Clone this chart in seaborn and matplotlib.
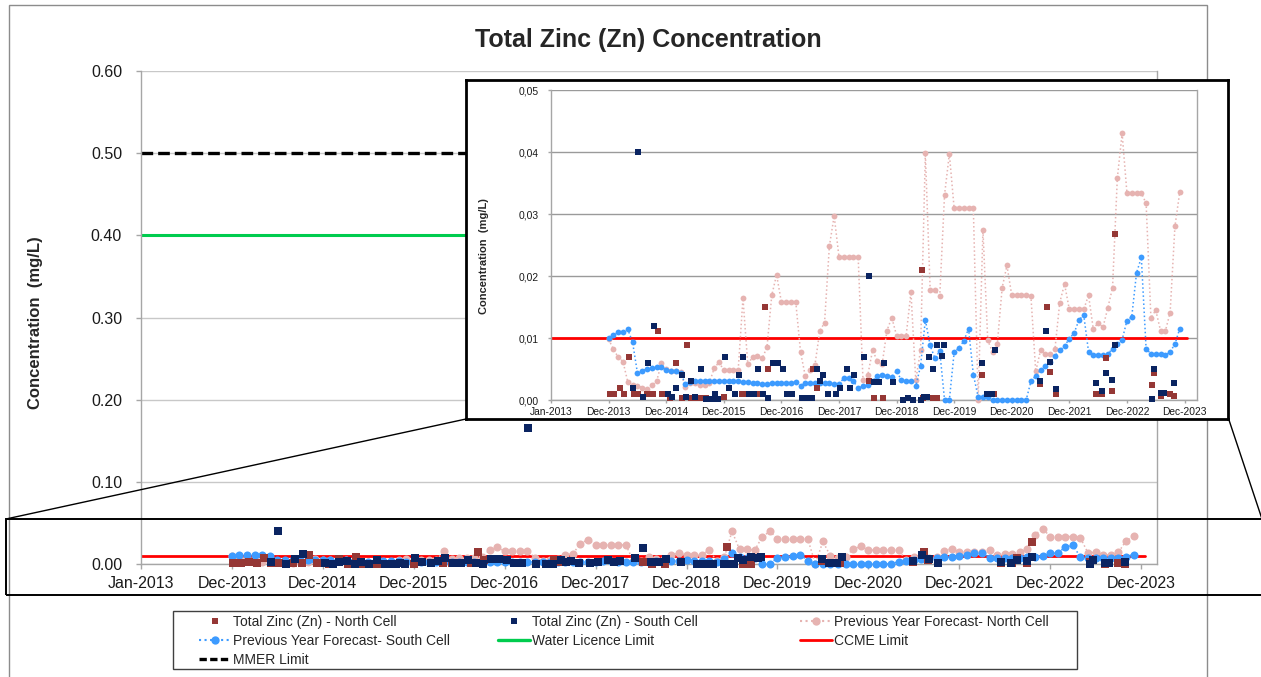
import matplotlib
matplotlib.use("Agg")
import matplotlib.pyplot as plt
from matplotlib.lines import Line2D
from matplotlib.patches import Rectangle
import seaborn as sns

# ---------------------------------------------------------------- data
x_tick_labels = ["Jan-2013", "Dec-2013", "Dec-2014", "Dec-2015", "Dec-2016",
                 "Dec-2017", "Dec-2018", "Dec-2019", "Dec-2020", "Dec-2021",
                 "Dec-2022", "Dec-2023"]
main_y_ticks = [0.0, 0.1, 0.2, 0.3, 0.4, 0.5, 0.6]
main_y_labels = ["0.00", "0.10", "0.20", "0.30", "0.40", "0.50", "0.60"]
inset_y_ticks = [0.0, 0.01, 0.02, 0.03, 0.04, 0.05]
inset_y_labels = ["0,00", "0,01", "0,02", "0,03", "0,04", "0,05"]

# monthly forecasts, first value = Dec-2013
forecast_north = [
    0.0098, 0.0082, 0.0069, 0.0062, 0.0029, 0.0025, 0.0023, 0.0020, 0.0017, 0.0024,
    0.0030, 0.0059, 0.0050, 0.0047, 0.0046, 0.0045, 0.0021, 0.0027, 0.0027, 0.0025,
    0.0025, 0.0028, 0.0051, 0.0061, 0.0048, 0.0048, 0.0048, 0.0048, 0.0164, 0.0058,
    0.0069, 0.0071, 0.0067, 0.0085, 0.0169, 0.0202, 0.0158, 0.0158, 0.0158, 0.0158,
    0.0077, 0.0038, 0.0048, 0.0057, 0.0111, 0.0125, 0.0248, 0.0297, 0.0231, 0.0231,
    0.0231, 0.0231, 0.0231, 0.0033, 0.0040, 0.0080, 0.0063, 0.0058, 0.0112, 0.0133,
    0.0104, 0.0104, 0.0104, 0.0174, 0.0032, 0.0080, 0.0398, 0.0178, 0.0177, 0.0168,
    0.0331, 0.0397, 0.0309, 0.0309, 0.0309, 0.0309, 0.0309, 0.0000, 0.0274, 0.0096,
    0.0078, 0.0091, 0.0181, 0.0217, 0.0169, 0.0169, 0.0169, 0.0169, 0.0167, 0.0046,
    0.0080, 0.0074, 0.0074, 0.0082, 0.0157, 0.0187, 0.0146, 0.0146, 0.0146, 0.0146,
    0.0169, 0.0114, 0.0125, 0.0117, 0.0148, 0.0181, 0.0358, 0.0430, 0.0334, 0.0334,
    0.0334, 0.0334, 0.0317, 0.0132, 0.0145, 0.0112, 0.0111, 0.0141, 0.0280, 0.0335,
]
forecast_south = [
    0.0100, 0.0105, 0.0109, 0.0110, 0.0114, 0.0093, 0.0044, 0.0047, 0.0050, 0.0052,
    0.0054, 0.0053, 0.0049, 0.0046, 0.0046, 0.0043, 0.0026, 0.0029, 0.0030, 0.0031,
    0.0031, 0.0031, 0.0031, 0.0030, 0.0030, 0.0030, 0.0030, 0.0030, 0.0029, 0.0029,
    0.0028, 0.0027, 0.0026, 0.0026, 0.0027, 0.0028, 0.0028, 0.0028, 0.0028, 0.0029,
    0.0023, 0.0027, 0.0028, 0.0027, 0.0027, 0.0028, 0.0027, 0.0026, 0.0026, 0.0035,
    0.0035, 0.0030, 0.0020, 0.0022, 0.0024, 0.0030, 0.0038, 0.0040, 0.0039, 0.0037,
    0.0047, 0.0032, 0.0031, 0.0031, 0.0022, 0.0055, 0.0129, 0.0088, 0.0067, 0.0079,
    0.0000, 0.0000, 0.0077, 0.0084, 0.0095, 0.0115, 0.0041, 0.0005, 0.0005, 0.0005,
    0.0000, 0.0000, 0.0000, 0.0000, 0.0000, 0.0000, 0.0000, 0.0000, 0.0030, 0.0039,
    0.0048, 0.0055, 0.0062, 0.0071, 0.0080, 0.0087, 0.0099, 0.0108, 0.0129, 0.0137,
    0.0078, 0.0073, 0.0073, 0.0072, 0.0075, 0.0082, 0.0090, 0.0097, 0.0128, 0.0134,
    0.0205, 0.0230, 0.0082, 0.0075, 0.0075, 0.0074, 0.0072, 0.0078, 0.0090, 0.0115,
]

# sampling dates as months after Dec-2013
north_months = [0.2, 1.2, 2.3, 3.3, 4.2, 5.2, 6.2, 8.0, 9.2, 10.2, 11.2, 12.8,
                14.1, 15.3, 16.4, 17.2, 18.2, 19.2, 20.3, 24.0, 27.8, 29.1, 30.1,
                31.5, 32.5, 33.3, 42.5, 43.5, 45.8, 47.3, 54.3, 55.4, 57.2, 65.3,
                65.6, 67.5, 68.5, 77.9, 80.3, 89.9, 91.4, 91.9, 93.2, 101.5, 102.9,
                103.6, 104.9, 105.6, 113.2, 113.6, 115.2, 116.9, 117.9]
north_zn = [0.0010, 0.0010, 0.0019, 0.0010, 0.0070, 0.0010, 0.0010, 0.0010,
            0.0010, 0.0111, 0.0010, 0.0003, 0.0060, 0.0003, 0.0089, 0.0003,
            0.0003, 0.0003, 0.0003, 0.0005, 0.0010, 0.0010, 0.0010, 0.0010,
            0.0150, 0.0050, 0.0050, 0.0020, 0.0010, 0.0010, 0.0030, 0.0004,
            0.0004, 0.0210, 0.0004, 0.0004, 0.0004, 0.0040, 0.0010, 0.0026,
            0.0150, 0.0045, 0.0010, 0.0010, 0.0010, 0.0067, 0.0015, 0.0268,
            0.0024, 0.0044, 0.0006, 0.0010, 0.0006]

south_months = [5.1, 6.1, 7.2, 8.3, 9.4, 12.3, 13.3, 14.1, 15.2, 16.2, 17.1, 18.1,
                19.2, 20.2, 21.0, 21.6, 22.2, 22.8, 24.2, 25.1, 26.3, 27.2, 28.1,
                29.2, 30.2, 31.2, 32.2, 33.2, 34.2, 35.2, 36.3, 37.2, 38.3, 39.1,
                40.2, 41.4, 42.4, 43.4, 44.1, 44.7, 45.8, 47.3, 48.3, 49.7, 50.4,
                51.2, 53.2, 54.3, 55.3, 56.4, 57.3, 59.3, 61.4, 62.4, 63.5, 65.0,
                65.7, 66.3, 66.8, 67.5, 68.5, 69.4, 69.8, 77.9, 78.8, 79.8, 80.5,
                89.9, 91.1, 92.0, 93.2, 101.5, 102.8, 103.6, 104.9, 105.6, 113.2,
                113.6, 115.2, 115.8, 117.9]
south_zn = [0.0019, 0.0400, 0.0005, 0.0060, 0.0120, 0.0010, 0.0005, 0.0019,
            0.0040, 0.0005, 0.0030, 0.0005, 0.0050, 0.0002, 0.0002, 0.0002,
            0.0010, 0.0002, 0.0070, 0.0019, 0.0010, 0.0040, 0.0070, 0.0010,
            0.0010, 0.0050, 0.0010, 0.0004, 0.0060, 0.0060, 0.0050, 0.0010,
            0.0010, 0.1650, 0.0004, 0.0004, 0.0004, 0.0050, 0.0030, 0.0040,
            0.0010, 0.0010, 0.0019, 0.0050, 0.0019, 0.0040, 0.0070, 0.0200,
            0.0029, 0.0029, 0.0059, 0.0029, 0.0000, 0.0004, 0.0000, 0.0000,
            0.0005, 0.0005, 0.0070, 0.0050, 0.0089, 0.0071, 0.0089, 0.0060,
            0.0010, 0.0010, 0.0080, 0.0031, 0.0111, 0.0062, 0.0017, 0.0027,
            0.0015, 0.0044, 0.0033, 0.0088, 0.0001, 0.0050, 0.0012, 0.0012,
            0.0028]

mmer_limit = 0.50
water_licence_limit = 0.40
ccme_limit = 0.01
limit_months = [-12, 120.5]   # guideline lines run across the whole record

# ------------------------------------------------------------- styling
NORTH_SQ = "#953735"
SOUTH_SQ = "#0a2461"
NORTH_FC = "#e6b3b1"
SOUTH_FC = "#3d9bff"
GREEN = "#00cc4e"
RED = "#ff0000"
AXIS_GREY = "#a6a6a6"

W, H, DPI = 1261, 677, 100
AXIS_START = 12   # axis position of Dec-2013 (one slot per month)


def fx(px):
    return px / W


def fy(py):
    return 1 - py / H


def pos(months):
    return [AXIS_START + m for m in months]


tick_pos = [12 * i for i in range(len(x_tick_labels))]
fc_pos = pos(range(len(forecast_north)))

sns.set_theme(style="white")
plt.rcParams["font.family"] = ["Liberation Sans", "DejaVu Sans"]

fig = plt.figure(figsize=(W / DPI, H / DPI), dpi=DPI)
fig.patch.set_facecolor("white")


def draw_series(ax, ymax, sq_size, dot_size, fc_lw):
    keep_n = [i for i, v in enumerate(north_zn) if v <= ymax]
    keep_s = [i for i, v in enumerate(south_zn) if v <= ymax]
    lx = pos(limit_months)
    for val, col, lw, ls in [(mmer_limit, "black", 2.4, (0, (3.5, 1.5))),
                             (water_licence_limit, GREEN, 2.2, "-"),
                             (ccme_limit, RED, 2.0, "-")]:
        if val <= ymax:
            sns.lineplot(x=lx, y=[val, val], ax=ax, color=col, linewidth=lw,
                         linestyle=ls, errorbar=None, zorder=2)
    sns.lineplot(x=fc_pos, y=forecast_north, ax=ax, color=NORTH_FC,
                 linewidth=fc_lw, linestyle=":", marker="o", markersize=dot_size,
                 markeredgewidth=0, errorbar=None, zorder=3, clip_on=False)
    sns.lineplot(x=fc_pos, y=forecast_south, ax=ax, color=SOUTH_FC,
                 linewidth=fc_lw, linestyle=":", marker="o", markersize=dot_size,
                 markeredgewidth=0, errorbar=None, zorder=3, clip_on=False)
    sns.scatterplot(x=[pos(north_months)[i] for i in keep_n],
                    y=[north_zn[i] for i in keep_n], ax=ax, marker="s",
                    s=sq_size, color=NORTH_SQ, linewidth=0, zorder=4,
                    clip_on=False, legend=False)
    sns.scatterplot(x=[pos(south_months)[i] for i in keep_s],
                    y=[south_zn[i] for i in keep_s], ax=ax, marker="s",
                    s=sq_size, color=SOUTH_SQ, linewidth=0, zorder=4,
                    clip_on=False, legend=False)


def style_axes(ax, xmax, yticks, ylabels, labelsize, ticklen, xpad, ypad, grid_col):
    ax.set_xlim(0, xmax)
    ax.set_ylim(yticks[0], yticks[-1])
    ax.set_xticks(tick_pos)
    ax.set_xticklabels(x_tick_labels)
    ax.set_yticks(yticks)
    ax.set_yticklabels(ylabels)
    ax.set_xlabel("")
    ax.set_ylabel("")
    ax.yaxis.grid(True, color=grid_col, linewidth=1)
    ax.xaxis.grid(False)
    ax.set_axisbelow(True)
    for side in ["left", "bottom", "right"]:
        ax.spines[side].set_visible(True)
        ax.spines[side].set_color(AXIS_GREY)
        ax.spines[side].set_linewidth(1)
    ax.spines["top"].set_visible(False)
    ax.tick_params(axis="both", direction="out", length=ticklen, width=1,
                   color=AXIS_GREY, labelsize=labelsize, labelcolor="#1a1a1a")
    ax.tick_params(axis="x", pad=xpad, bottom=True)
    ax.tick_params(axis="y", pad=ypad, left=True)


# outer chart border
fig.add_artist(Rectangle((fx(9), fy(720)), fx(1207 - 9), fy(5) - fy(720),
                         transform=fig.transFigure, fill=False,
                         edgecolor="#8c8c8c", linewidth=1, zorder=0))

# ------------------------------------------------------------ main chart
ax = fig.add_axes([fx(141), fy(564), fx(1157) - fx(141), fy(71) - fy(564)])
ax.set_facecolor("white")
draw_series(ax, 1.0, sq_size=34, dot_size=5.8, fc_lw=1.1)
style_axes(ax, 134.1, main_y_ticks, main_y_labels, 11.5, 3.6, 5, 10, "#c8c8c8")

fig.text(fx(648), fy(40), "Total Zinc (Zn) Concentration", ha="center",
         va="center", fontsize=18, fontweight="bold")
fig.text(fx(36), fy(323), "Concentration  (mg/L)", ha="center", va="center",
         rotation=90, fontsize=12, fontweight="bold")

# ------------------------------------------------------ magnified inset
frame = fig.add_axes([fx(466), fy(419), fx(1228) - fx(466), fy(80) - fy(419)],
                     zorder=5)
frame.set_facecolor("white")
frame.set_xticks([])
frame.set_yticks([])
for sp in frame.spines.values():
    sp.set_visible(True)
    sp.set_color("black")
    sp.set_linewidth(2)

axi = fig.add_axes([fx(551), fy(400), fx(1197) - fx(551), fy(90) - fy(400)],
                   zorder=6)
axi.set_facecolor("white")
draw_series(axi, inset_y_ticks[-1], sq_size=17, dot_size=4.2, fc_lw=1.1)
style_axes(axi, 134.6, inset_y_ticks, inset_y_labels, 7.4, 2.2, 3, 6.5, "#9a9a9a")
fig.text(fx(484), fy(256), "Concentration  (mg/L)", ha="center", va="center",
         rotation=90, fontsize=8, fontweight="bold", zorder=7)

# zoom-region outline and connectors
fig.add_artist(Rectangle((fx(6), fy(595)), fx(1280 - 6), fy(519) - fy(595),
                         transform=fig.transFigure, fill=False,
                         edgecolor="black", linewidth=1.4, zorder=8))
fig.add_artist(Line2D([fx(6), fx(466)], [fy(519), fy(419)],
                      transform=fig.transFigure, color="black", linewidth=1,
                      zorder=8))
fig.add_artist(Line2D([fx(1229), fx(1262)], [fy(420), fy(519)],
                      transform=fig.transFigure, color="black", linewidth=1,
                      zorder=8))

# ---------------------------------------------------------------- legend
fig.add_artist(Rectangle((fx(173), fy(669)), fx(1077 - 173), fy(611) - fy(669),
                         transform=fig.transFigure, facecolor="white",
                         edgecolor="#404040", linewidth=1, zorder=8))

h_north = Line2D([], [], linestyle="none", marker="s", markersize=4.6,
                 color=NORTH_SQ, markeredgewidth=0)
h_south = Line2D([], [], linestyle="none", marker="s", markersize=4.6,
                 color=SOUTH_SQ, markeredgewidth=0)
h_fn = Line2D([], [], linestyle=":", linewidth=1.5, color=NORTH_FC, marker="o",
              markersize=6, markeredgewidth=0)
h_fs = Line2D([], [], linestyle=":", linewidth=1.5, color=SOUTH_FC, marker="o",
              markersize=6, markeredgewidth=0)
h_wl = Line2D([], [], linestyle="-", linewidth=2.4, color=GREEN)
h_ccme = Line2D([], [], linestyle="-", linewidth=2.0, color=RED)
h_mmer = Line2D([], [], linestyle=(0, (2.2, 1.0)), linewidth=2.4, color="black")

legend_columns = [
    (199, [h_north, h_fs, h_mmer],
     ["Total Zinc (Zn) - North Cell", "Previous Year Forecast- South Cell",
      "MMER Limit"]),
    (498, [h_south, h_wl],
     ["Total Zinc (Zn) - South Cell", "Water Licence Limit"]),
    (800, [h_fn, h_ccme],
     ["Previous Year Forecast- North Cell", "CCME Limit"]),
]
for x0, handles, labels in legend_columns:
    leg = fig.legend(handles, labels, loc="upper left",
                     bbox_to_anchor=(fx(x0), fy(615)), frameon=False,
                     fontsize=10, handlelength=2.3, handletextpad=0.15,
                     labelspacing=0.36, borderpad=0, borderaxespad=0)
    leg.set_zorder(9)

fig.savefig("out.png", dpi=DPI, facecolor="white")
